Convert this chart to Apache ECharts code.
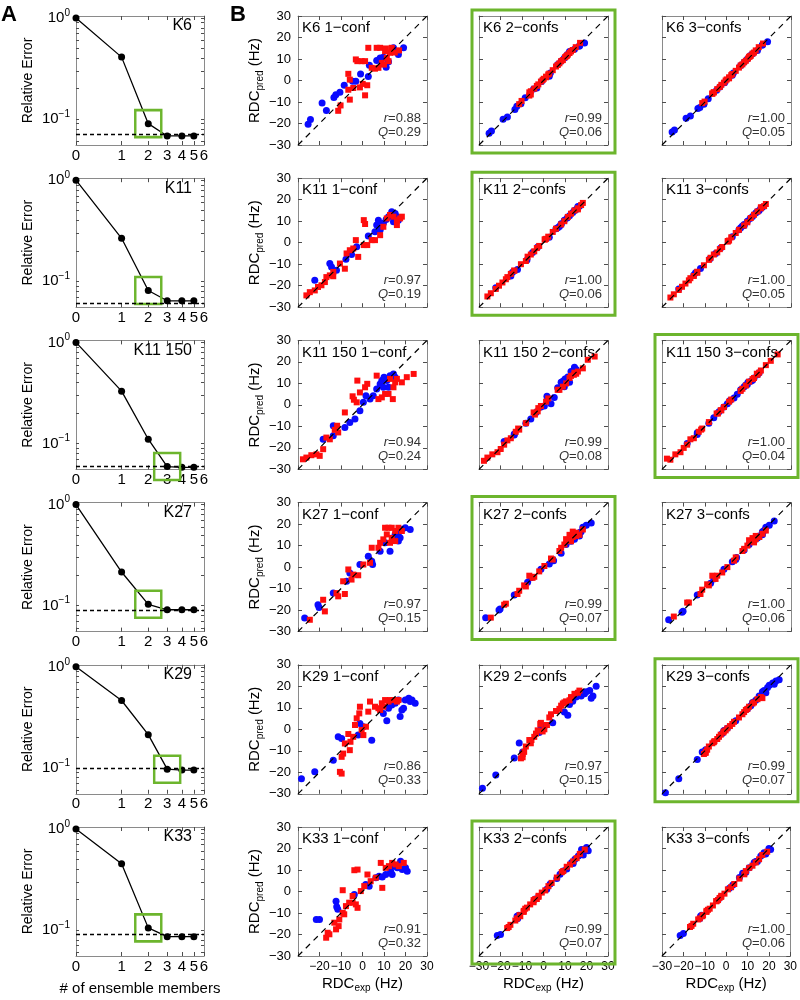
<!DOCTYPE html>
<html><head><meta charset="utf-8">
<script src="https://cdn.jsdelivr.net/npm/echarts@6.0.0/dist/echarts.min.js"></script>
<style>html,body{margin:0;padding:0;background:#fff}#c{width:800px;height:1000px}</style>
</head><body><div id="c"></div>
<script>
// ---------------- DATA ----------------
const constructs = ['K6', 'K11', 'K11 150', 'K27', 'K29', 'K33'];
const models = ['1\u2212conf', '2\u2212confs', '3\u2212confs'];
const ensembleSizes = [0, 1, 2, 3, 4, 5];
const ensembleTicks = [0, 1, 2, 3, 4, 5, 6];
const errTicks = [0.1, 1];
const errMinorTicks = [0.06, 0.07, 0.08, 0.09, 0.1, 0.2, 0.3, 0.4, 0.5, 0.6, 0.7, 0.8, 0.9, 1];
const rdcTicks = [-30, -20, -10, 0, 10, 20, 30];
const diagEnds = [-30, 30];

// Panel A: relative error vs # of ensemble members
const errK6    = [1.0, 0.41, 0.090, 0.068, 0.068, 0.068];
const errK11   = [1.0, 0.266, 0.081, 0.064, 0.064, 0.064];
const errK11_150 = [1.0, 0.329, 0.110, 0.059, 0.058, 0.058];
const errK27   = [1.0, 0.215, 0.103, 0.091, 0.091, 0.091];
const errK29   = [1.0, 0.464, 0.213, 0.097, 0.095, 0.095];
const errK33   = [1.0, 0.453, 0.105, 0.086, 0.086, 0.086];
const plateau  = [0.068, 0.064, 0.058, 0.091, 0.095, 0.086];
const chosenSize = [2, 2, 3, 2, 3, 2];

// Panel B statistics
const rVals = [[0.88, 0.99, 1.00], [0.97, 1.00, 1.00], [0.94, 0.99, 1.00], [0.97, 0.99, 1.00], [0.86, 0.97, 0.99], [0.91, 0.99, 1.00]];
const qVals = [[0.29, 0.06, 0.05], [0.19, 0.06, 0.05], [0.24, 0.08, 0.04], [0.15, 0.07, 0.06], [0.33, 0.15, 0.07], [0.32, 0.07, 0.06]];

// K6
const K6_expBlue = [-25.3,-24.2,-18.8,-16.8,-13.3,-12.4,-10.5,-8.5,-4.6,-3.1,-0.9,2.7,3.2,6.6,8.2,9.7,11.0,12.1,14.4,16.7,19.1,16.7];
const K6_b1 = [-20.3,-18.1,-10.5,-13.9,-7.9,-6.6,-5.5,-2.2,-0.4,-0.4,3.0,1.9,7.1,9.3,10.5,10.8,6.2,8.7,15.2,13.6,15.2,12.1];
const K6_b2 = [-24.5,-23.5,-18.0,-17.0,-13.5,-12.0,-10.8,-8.0,-4.0,-3.5,-0.5,2.0,3.5,7.5,9.0,10.5,12.0,13.5,14.5,16.0,17.5,16.0];
const K6_b3 = [-24.0,-23.0,-17.5,-16.5,-13.0,-12.5,-11.0,-8.5,-4.5,-3.0,-1.0,2.5,3.5,7.0,8.5,10.0,11.5,12.5,14.0,16.5,18.0,16.5];
const K6_expRed = [-11.3,-10.2,-5.9,-6.6,-6.6,-5.9,-4.3,-1.2,0.1,1.2,2.2,-0.4,1.2,2.7,-2.4,-3.1,4.3,5.8,7.4,8.2,9.0,10.5,11.3,12.1,12.8,13.6,10.0,10.9,6.6,15.0,17.0];
const K6_r1 = [-14.1,-11.6,-8.9,-4.3,3.1,0.4,-3.5,-3.2,-1.6,-6.9,-2.2,9.0,9.0,15.2,9.0,9.8,5.9,5.5,5.9,15.2,8.2,13.6,10.5,9.0,12.9,15.2,7.4,14.9,15.2,13.0,14.0];
const K6_r2 = [-11.0,-9.5,-5.0,-7.0,-5.5,-6.5,-3.8,-0.5,0.8,1.5,2.8,0.2,1.8,3.2,-1.8,-2.5,4.8,6.5,8.0,9.0,9.5,11.2,12.0,12.8,13.5,14.2,10.8,11.5,7.2,15.5,17.5];
const K6_r3 = [-10.5,-9.8,-5.5,-6.2,-6.0,-5.5,-4.0,-1.0,0.5,1.5,2.5,0.0,1.0,3.0,-2.0,-3.0,4.5,6.0,7.5,8.5,9.2,11.0,11.5,12.5,13.0,14.0,10.2,11.2,7.0,15.5,17.2];
// K11
const K11_expBlue = [-22.2,-15.2,-14.4,-12.1,-7.7,-5.1,-2.7,2.7,5.8,6.6,7.4,8.2,9.7,11.0,12.1,13.6,15.2,16.0,16.7,14.4,8.2];
const K11_b1 = [-17.5,-9.7,-11.3,-12.8,-7.7,-5.5,-1.9,3.1,5.1,8.2,10.5,6.6,9.0,10.8,12.1,14.4,13.6,12.1,10.5,9.8,5.9];
const K11_b2 = [-21.0,-15.5,-13.8,-12.5,-8.0,-4.5,-2.0,2.5,6.5,7.0,7.5,8.5,10.5,11.5,12.5,14.0,15.5,16.8,17.0,15.0,8.8];
const K11_b3 = [-21.5,-15.0,-14.0,-12.0,-7.5,-5.0,-2.5,2.8,6.0,7.0,7.8,8.0,10.0,11.2,12.2,13.8,15.0,16.0,16.5,14.5,8.5];
const K11_expRed = [-26.1,-24.5,-22.2,-20.7,-19.1,-17.5,-16.8,-15.2,-13.6,-13.6,-10.5,-8.2,-7.4,-5.9,-4.3,-3.1,-2.0,0.6,2.2,0.6,1.2,4.3,5.8,8.2,9.7,12.8,14.4,16.0,17.5,18.3,16.0,11.3];
const K11_r1 = [-24.5,-23.0,-22.2,-20.6,-19.8,-18.3,-16.0,-15.2,-15.6,-13.6,-9.7,-12.1,-5.0,-3.5,-2.7,1.2,-6.6,-1.1,-1.1,10.5,8.7,1.2,1.2,3.5,7.4,12.9,12.1,10.5,11.3,12.1,8.2,11.3];
const K11_r2 = [-25.0,-23.5,-21.5,-20.0,-18.5,-17.0,-16.0,-14.5,-13.0,-13.0,-10.0,-8.5,-6.5,-5.5,-4.0,-2.5,-1.5,1.5,2.8,1.5,1.8,5.0,6.5,8.5,10.0,13.5,15.0,16.0,17.5,18.5,15.5,12.0];
const K11_r3 = [-25.5,-24.0,-22.0,-20.5,-19.0,-17.5,-16.5,-15.5,-13.5,-14.0,-10.5,-8.0,-7.0,-5.5,-4.5,-3.0,-2.0,0.8,2.5,0.5,1.0,4.5,6.0,8.0,9.5,13.0,14.5,16.5,17.0,18.0,16.0,11.5];
// K11 150
const K150_expBlue = [-18.3,-13.6,-13.6,-8.2,-5.9,-3.5,-1.2,0.4,1.6,3.5,5.0,6.6,8.2,9.0,10.0,11.3,12.8,14.4,15.2,9.7,12.1];
const K150_b1 = [-16.0,-14.4,-9.7,-10.5,-8.2,-6.6,-2.7,1.2,4.3,2.7,4.3,7.4,9.7,11.3,12.9,11.3,13.6,14.4,12.9,8.2,8.2];
const K150_b2 = [-17.0,-14.0,-13.5,-8.5,-6.5,-3.5,-1.0,-0.5,4.0,0.5,3.5,8.0,10.5,11.0,12.0,13.0,15.5,17.5,16.5,8.5,10.5];
const K150_b3 = [-18.0,-13.8,-13.0,-8.5,-6.0,-3.2,-1.0,0.5,2.0,3.2,5.0,7.0,8.5,9.2,10.5,11.0,12.5,14.0,15.0,9.5,11.5];
const K150_expRed = [-27.7,-26.1,-23.8,-21.4,-19.9,-18.3,-16.8,-15.2,-12.9,-11.8,-11.3,-8.2,-4.6,-4.0,-2.7,-2.4,-1.2,1.2,2.2,6.6,7.4,9.0,10.5,12.1,14.1,14.4,15.2,18.3,20.6,23.8,12.8,16.0];
const K150_r1 = [-25.3,-24.5,-23.4,-23.0,-23.7,-20.6,-15.2,-16.0,-11.6,-9.7,-12.8,-3.5,4.0,2.4,1.2,11.3,5.8,8.2,9.8,13.6,2.7,3.5,5.1,5.1,2.7,8.2,10.5,10.5,12.9,14.4,12.1,12.1];
const K150_r2 = [-26.0,-24.5,-23.0,-22.0,-20.5,-18.5,-16.5,-15.5,-12.5,-11.0,-11.5,-8.5,-3.5,-4.5,-3.0,-1.5,-0.5,1.5,3.0,7.0,7.0,8.5,10.0,12.5,14.0,15.0,14.5,17.0,21.0,22.5,13.5,15.5];
const K150_r3 = [-25.0,-25.5,-23.0,-22.0,-20.0,-18.5,-16.0,-15.5,-12.5,-11.5,-11.0,-8.0,-4.0,-4.0,-2.5,-2.5,-1.0,1.5,2.5,6.5,7.5,9.0,10.8,12.0,14.5,14.0,15.0,18.5,20.5,23.5,12.5,16.0];
// K27
const K27_expBlue = [-26.9,-20.7,-20.2,-13.6,-7.4,-5.9,-1.2,2.7,4.3,4.7,8.2,10.5,12.8,15.2,16.7,17.5,18.3,19.9,22.2,16.7,14.4];
const K27_b1 = [-23.7,-17.5,-18.8,-12.1,-6.6,-2.7,1.2,5.1,2.7,1.2,7.4,11.3,7.4,15.2,16.0,13.6,17.5,18.3,17.5,12.1,12.9];
const K27_b2 = [-23.5,-20.0,-19.5,-13.0,-7.0,-5.0,-1.0,1.5,3.5,3.0,6.5,10.5,12.0,15.0,16.0,16.5,18.5,19.5,20.5,14.5,13.0];
const K27_b3 = [-24.5,-21.0,-20.5,-13.0,-7.5,-5.5,-1.0,2.5,3.5,4.5,8.0,10.5,12.0,14.5,16.5,17.0,18.5,19.5,21.5,15.0,13.5];
const K27_expRed = [-24.5,-18.3,-17.5,-12.1,-11.3,-8.2,-9.0,-6.6,-5.1,-4.3,-2.0,0.4,3.5,4.3,7.4,8.2,9.7,10.5,12.1,13.6,15.2,11.3,13.6,15.2,12.8,16.7,18.3];
const K27_r1 = [-24.5,-15.2,-20.6,-12.1,-13.6,-12.5,-6.6,-1.1,-5.8,-3.5,-3.8,1.2,2.0,9.0,9.0,11.3,12.9,18.3,18.3,18.3,16.8,15.2,13.6,12.1,11.3,18.3,16.8];
const K27_r2 = [-23.5,-17.5,-17.0,-12.5,-11.0,-9.0,-8.5,-4.0,-5.0,-4.5,-2.0,0.5,4.0,3.5,7.5,9.0,10.5,13.0,15.0,16.5,16.0,12.5,14.0,14.5,12.0,15.0,17.5];
const K27_r3 = [-23.0,-16.5,-16.5,-12.5,-10.5,-8.5,-8.0,-4.0,-5.5,-4.0,-2.5,0.0,3.0,4.5,7.5,8.5,10.0,12.5,13.5,14.5,14.0,12.0,13.0,14.0,11.5,15.5,17.0];
// K29
const K29_expBlue = [-28.4,-22.2,-13.6,-11.3,-9.7,-2.0,-1.2,4.3,0.4,9.7,11.3,12.1,13.6,15.2,16.7,17.5,18.3,19.1,19.9,21.5,23.0,24.5,22.2];
const K29_b1 = [-23.0,-19.8,-14.4,-3.5,-4.3,-2.7,2.7,-5.1,1.2,7.4,4.0,9.8,11.3,12.1,13.6,5.9,9.0,9.8,13.6,14.4,13.6,12.1,12.9];
const K29_b2 = [-27.4,-21.2,-13.4,-6.4,-10.5,-1.5,0.5,3.0,1.5,8.0,6.5,11.5,13.0,15.0,16.5,15.5,17.0,16.5,17.5,18.0,15.5,20.0,14.5];
const K29_b3 = [-29.5,-23.0,-14.0,-10.5,-9.5,-2.0,-0.5,4.0,0.5,9.5,11.0,12.5,13.5,15.5,17.5,18.0,17.0,19.5,20.5,21.5,22.5,23.0,21.0];
const K29_expRed = [-10.5,-9.7,-9.7,-9.0,-8.2,-6.6,-5.9,-5.6,-4.3,-3.5,-2.7,-1.5,-1.2,-0.4,0.4,1.6,2.7,3.5,5.8,7.4,9.0,10.5,12.1,12.8,14.4,8.2,9.7,16.0,16.7];
const K29_r1 = [-19.8,-20.6,-12.8,-11.3,-6.6,-2.2,-9.7,-5.8,-3.5,2.0,5.1,7.4,10.5,-0.3,-2.7,1.2,8.2,12.9,10.5,9.8,12.1,13.6,12.9,13.6,13.6,9.0,10.5,12.9,13.6];
const K29_r2 = [-13.5,-13.0,-11.5,-10.5,-8.0,-5.0,-6.5,-5.0,-3.5,-2.0,-0.5,2.5,3.0,-1.0,0.0,2.0,5.5,7.0,8.5,9.5,12.0,13.0,13.5,15.0,16.5,11.0,12.5,17.0,18.0];
const K29_r3 = [-11.5,-11.0,-10.5,-9.5,-8.0,-6.5,-6.0,-5.5,-4.5,-3.5,-2.5,-1.5,-1.0,-0.5,0.5,1.5,2.5,3.5,5.5,7.0,9.0,10.5,12.0,12.5,14.0,8.0,9.5,15.0,14.5];
// K33
const K33_expBlue = [-21.5,-20.0,-12.3,-12.0,-11.5,-3.8,1.5,3.1,6.2,7.7,9.2,10.8,13.1,14.6,16.2,17.7,18.5,20.8,20.0,13.8];
const K33_b1 = [-13.0,-13.0,-4.5,-7.1,-8.3,-1.4,3.3,2.5,6.4,7.1,6.8,7.9,9.4,11.8,11.0,14.1,10.2,9.4,11.0,7.9];
const K33_b2 = [-20.5,-20.0,-11.5,-12.5,-11.0,-3.5,1.0,3.5,6.0,8.0,9.5,10.5,13.5,15.0,16.5,19.5,17.0,19.0,20.5,13.0];
const K33_b3 = [-20.5,-19.5,-12.5,-11.5,-11.0,-4.0,1.5,3.0,6.5,8.5,9.0,11.0,13.5,14.0,16.5,18.0,17.5,19.5,20.0,14.0];
const K33_expRed = [-16.9,-16.2,-15.4,-13.1,-12.3,-11.1,-10.8,-9.2,-9.2,-8.5,-7.7,-6.2,-4.6,-4.6,-3.1,-2.3,-3.8,-2.3,-0.8,0.8,2.3,3.8,6.2,8.5,9.2,10.8,12.3,13.8,15.4,16.9,19.2];
const K33_r1 = [-21.5,-19.2,-19.9,-14.5,-17.6,-16.1,-13.0,0.6,-9.9,-10.6,-6.8,-5.2,-2.1,-5.2,-6.0,-7.6,9.9,10.2,0.2,2.5,7.9,4.8,6.4,13.3,1.7,11.0,11.8,13.3,12.6,11.8,13.3];
const K33_r2 = [-17.0,-16.5,-15.5,-13.5,-12.5,-11.0,-11.5,-9.0,-9.5,-8.0,-7.5,-6.0,-4.0,-5.0,-3.5,-2.5,-3.5,-2.0,-0.5,0.5,2.5,4.0,6.5,9.0,9.5,11.5,12.5,14.0,15.5,17.5,19.5];
const K33_r3 = [-16.5,-16.0,-15.0,-13.0,-12.5,-11.5,-11.0,-9.5,-9.0,-8.5,-8.0,-6.5,-4.5,-4.5,-3.0,-2.0,-4.0,-2.5,-1.0,1.0,2.0,3.5,6.0,8.0,9.5,11.0,12.0,13.5,15.0,17.0,18.5];

// ---------------- ASSEMBLY ----------------
const errRows = [errK6, errK11, errK11_150, errK27, errK29, errK33];
const expBlue = [K6_expBlue, K11_expBlue, K150_expBlue, K27_expBlue, K29_expBlue, K33_expBlue];
const expRed = [K6_expRed, K11_expRed, K150_expRed, K27_expRed, K29_expRed, K33_expRed];
const predBlue = [[K6_b1,K6_b2,K6_b3],[K11_b1,K11_b2,K11_b3],[K150_b1,K150_b2,K150_b3],[K27_b1,K27_b2,K27_b3],[K29_b1,K29_b2,K29_b3],[K33_b1,K33_b2,K33_b3]];
const predRed = [[K6_r1,K6_r2,K6_r3],[K11_r1,K11_r2,K11_r3],[K150_r1,K150_r2,K150_r3],[K27_r1,K27_r2,K27_r3],[K29_r1,K29_r2,K29_r3],[K33_r1,K33_r2,K33_r3]];

const FONT = '"Liberation Sans", Arial, Helvetica, sans-serif';
const GREEN = '#6cb52d';
const AXC = '#8a8a8a';
const TICKC = '#4d4d4d';
const PANEL = 129;
const rowTop = r => 16 + r * 162.2;
const colLeftB = [298, 479, 662];
const aLeft = 76, aWidth = 128;
const minus = v => String(v).replace('-', '\u2212');

const grids = [], xAxes = [], yAxes = [], series = [], graphics = [];
const lineAx = {show: true, onZero: false, lineStyle: {color: AXC, width: 1}};

constructs.forEach((name, r) => {
  const top = rowTop(r);
  // ---------- Panel A ----------
  grids.push({left: aLeft, top: top, width: aWidth, height: PANEL});
  let g = grids.length - 1;
  const ensTickVals = ensembleTicks.map(n => n + 1);
  const xa = xAxes.length;
  xAxes.push({gridIndex: g, type: 'log', logBase: 10, min: 1, max: 7, position: 'bottom',
    axisLine: lineAx,
    axisTick: {show: true, inside: true, length: 4, customValues: ensTickVals, lineStyle: {color: TICKC}},
    axisLabel: {show: true, customValues: ensTickVals, formatter: v => String(Math.round(v) - 1),
      color: '#000', fontSize: 15, fontFamily: FONT, margin: 3, showMinLabel: true, showMaxLabel: true},
    splitLine: {show: false}, minorTick: {show: false},
    name: r === 5 ? '# of ensemble members' : '', nameLocation: 'middle', nameGap: 25,
    nameTextStyle: {fontSize: 15, fontFamily: FONT, color: '#000'}});
  xAxes.push({gridIndex: g, type: 'log', logBase: 10, min: 1, max: 7, position: 'top',
    axisLine: lineAx,
    axisTick: {show: true, inside: true, length: 4, customValues: ensTickVals, lineStyle: {color: TICKC}},
    axisLabel: {show: false}, splitLine: {show: false}});
  const ya = yAxes.length;
  const yBase = {gridIndex: g, type: 'log', logBase: 10, min: 0.0553, max: 1.047,
    axisLine: lineAx,
    axisTick: {show: true, inside: true, length: 3, customValues: errMinorTicks, lineStyle: {color: TICKC}},
    splitLine: {show: false}, minorTick: {show: false}};
  yAxes.push(Object.assign({}, yBase, {position: 'left',
    axisLabel: {show: true, customValues: errTicks, margin: 6,
      formatter: v => v > 0.5 ? '{b|10}{s|0}' : '{b|10}{s|\u22121}',
      rich: {b: {fontSize: 15, fontFamily: FONT, color: '#000', lineHeight: 20},
             s: {fontSize: 10, fontFamily: FONT, color: '#000', lineHeight: 10, verticalAlign: 'top'}}},
    name: 'Relative Error', nameLocation: 'middle', nameRotate: 90, nameGap: 41,
    nameTextStyle: {fontSize: 14, fontFamily: FONT, color: '#000'}}));
  yAxes.push(Object.assign({}, yBase, {position: 'right', axisLabel: {show: false}}));

  const err = errRows[r];
  series.push({type: 'line', xAxisIndex: xa, yAxisIndex: ya,
    data: ensembleSizes.map((n, i) => [n + 1, err[i]]),
    symbol: 'circle', symbolSize: 7, itemStyle: {color: '#000', opacity: 1},
    lineStyle: {color: '#000', width: 1.3}, z: 3,
    markLine: {silent: true, symbol: 'none', label: {show: false},
      lineStyle: {type: [4, 3], color: '#000', width: 1.3},
      data: [{yAxis: plateau[r]}]}});
  const cs = chosenSize[r];
  series.push({type: 'scatter', xAxisIndex: xa, yAxisIndex: ya,
    data: [[cs + 1, err[ensembleSizes.indexOf(cs)]]],
    symbol: 'rect', symbolSize: [26, 27], z: 4,
    itemStyle: {color: 'rgba(0,0,0,0)', borderColor: GREEN, borderWidth: 2.5, opacity: 1}});
  graphics.push({type: 'text', x: aLeft + aWidth - 12, y: top + 10, z: 10,
    style: {text: name, fontSize: 16, fontFamily: FONT, fill: '#000', align: 'right', verticalAlign: 'middle'}});

  // ---------- Panel B ----------
  models.forEach((m, c) => {
    const left = colLeftB[c];
    grids.push({left: left, top: top, width: PANEL, height: PANEL});
    g = grids.length - 1;
    const xb = xAxes.length;
    const xBase = {gridIndex: g, type: 'value', min: -30, max: 30, interval: 10,
      axisLine: lineAx, splitLine: {show: false},
      axisTick: {show: true, inside: true, length: 4, lineStyle: {color: TICKC}}};
    xAxes.push(Object.assign({}, xBase, {position: 'bottom',
      axisLabel: {show: r === 5, margin: 5, fontSize: 12, fontFamily: FONT, color: '#000',
        customValues: rdcTicks, showMinLabel: true, showMaxLabel: true, hideOverlap: false,
        formatter: v => (c === 0 && v === -30) ? '' : minus(v)},
      name: r === 5 ? '{a|RDC}{s|exp}{a| (Hz)}' : '', nameLocation: 'middle', nameGap: 19,
      nameTextStyle: {rich: {a: {fontSize: 15, fontFamily: FONT, color: '#000', lineHeight: 18},
                             s: {fontSize: 10, fontFamily: FONT, color: '#000', lineHeight: 8, verticalAlign: 'bottom'}}}}));
    xAxes.push(Object.assign({}, xBase, {position: 'top', axisLabel: {show: false}}));
    const yb = yAxes.length;
    yAxes.push(Object.assign({}, xBase, {position: 'left',
      axisLabel: {show: c === 0, margin: 7, fontSize: 13, fontFamily: FONT, color: '#000',
        showMinLabel: true, showMaxLabel: true, formatter: v => minus(v)},
      name: c === 0 ? '{a|RDC}{s|pred}{a| (Hz)}' : '', nameLocation: 'middle', nameRotate: 90, nameGap: 25,
      nameTextStyle: {rich: {a: {fontSize: 15, fontFamily: FONT, color: '#000', lineHeight: 20},
                             s: {fontSize: 10, fontFamily: FONT, color: '#000', lineHeight: 9, verticalAlign: 'bottom'}}}}));
    yAxes.push(Object.assign({}, xBase, {position: 'right', axisLabel: {show: false}}));

    const bx = expBlue[r], by = predBlue[r][c];
    const rx = expRed[r], ry = predRed[r][c];
    series.push({type: 'scatter', xAxisIndex: xb, yAxisIndex: yb, z: 2,
      data: bx.map((x, i) => [x, by[i]]), symbol: 'circle', symbolSize: 7,
      itemStyle: {color: '#0a0aff', opacity: 1}});
    series.push({type: 'scatter', xAxisIndex: xb, yAxisIndex: yb, z: 3,
      data: rx.map((x, i) => [x, ry[i]]), symbol: 'rect', symbolSize: 6,
      itemStyle: {color: '#ff0d0d', opacity: 1}});
    series.push({type: 'line', xAxisIndex: xb, yAxisIndex: yb, z: 4,
      data: diagEnds.map(v => [v, v]), symbol: 'none', silent: true,
      lineStyle: {color: '#000', width: 1.2, type: [6, 5]}});

    graphics.push({type: 'text', x: left + 4, y: top + 12, z: 10,
      style: {text: name + ' ' + m, fontSize: 15, fontFamily: FONT, fill: '#000', align: 'left', verticalAlign: 'middle'}});
    graphics.push({type: 'text', x: left + PANEL - 6, y: top + 102, z: 10,
      style: {text: '{i|r}=' + rVals[r][c].toFixed(2), fontSize: 13, fontFamily: FONT, fill: '#333',
        align: 'right', verticalAlign: 'middle',
        rich: {i: {fontStyle: 'italic', fontSize: 13, fontFamily: FONT, fill: '#333'}}}});
    graphics.push({type: 'text', x: left + PANEL - 6, y: top + 116, z: 10,
      style: {text: '{i|Q}=' + qVals[r][c].toFixed(2), fontSize: 13, fontFamily: FONT, fill: '#333',
        align: 'right', verticalAlign: 'middle',
        rich: {i: {fontStyle: 'italic', fontSize: 13, fontFamily: FONT, fill: '#333'}}}});
    if (chosenSize[r] === c + 1) {
      graphics.push({type: 'rect', z: 10, silent: true,
        shape: {x: left - 7, y: top - 6, width: PANEL + 14, height: PANEL + 14},
        style: {fill: 'none', stroke: GREEN, lineWidth: 3}});
    }
  });
});

graphics.push({type: 'text', x: 1, y: 4, style: {text: 'A', fontSize: 22, fontWeight: 'bold', fontFamily: FONT, fill: '#000'}});
graphics.push({type: 'text', x: 230, y: 4, style: {text: 'B', fontSize: 22, fontWeight: 'bold', fontFamily: FONT, fill: '#000'}});

const chart = echarts.init(document.getElementById('c'), null, {renderer: 'canvas'});
chart.setOption({
  animation: false,
  backgroundColor: '#fff',
  grid: grids, xAxis: xAxes, yAxis: yAxes, series: series, graphic: graphics
});
</script></body></html>
